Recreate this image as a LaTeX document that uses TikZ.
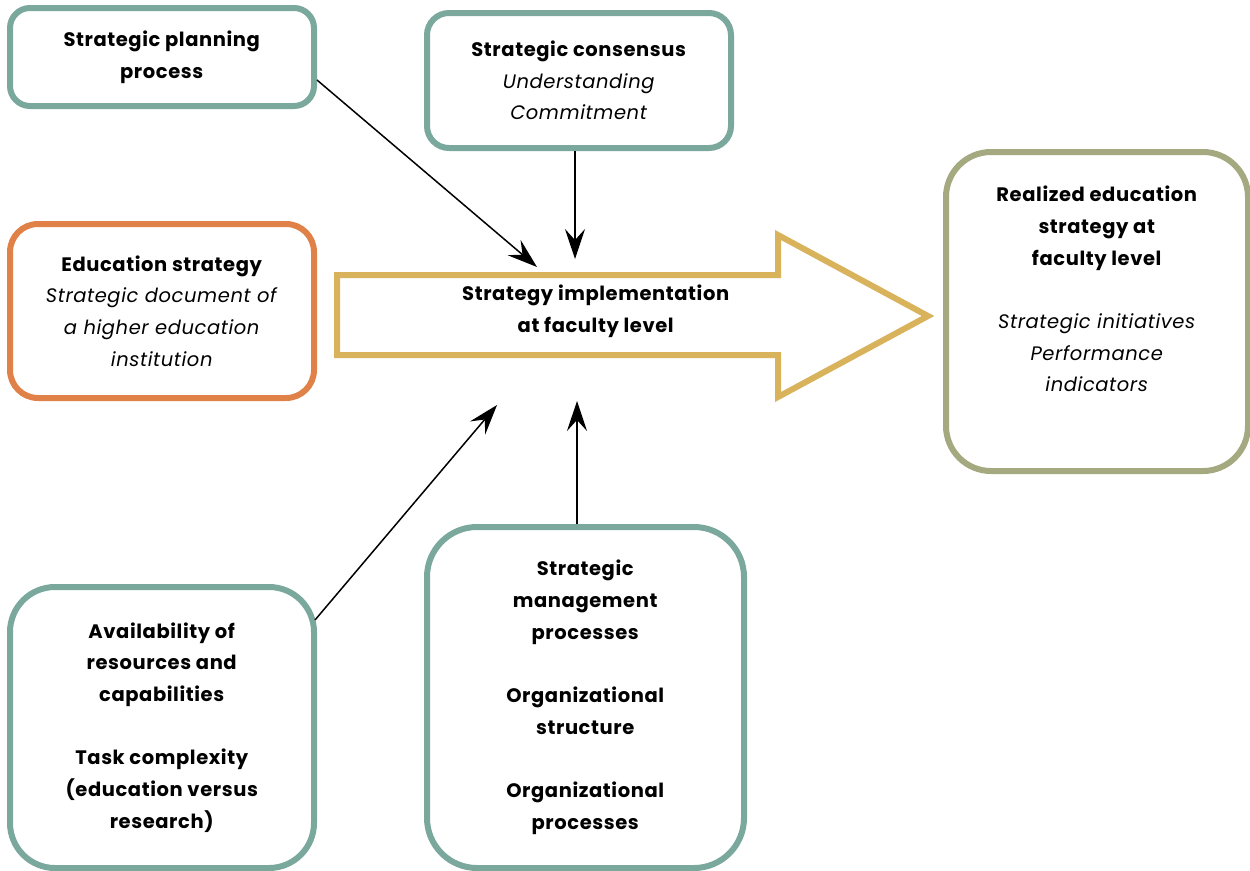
\documentclass[tikz,border=0pt]{standalone}
\usepackage{fontspec}
\setmainfont{Poppins}[LetterSpace=3]
\usetikzlibrary{arrows.meta}
\definecolor{tealc}{HTML}{7BA89C}
\definecolor{orangec}{HTML}{E08248}
\definecolor{goldc}{HTML}{D9B35C}
\definecolor{olivec}{HTML}{A4A97F}
\begin{document}
\begin{tikzpicture}[x=1pt,y=-1pt,
  box/.style={draw=tealc, line width=6pt, rounded corners=#1, fill=white,
              align=center, inner sep=0pt, font=\fontsize{19.5}{31.7}\selectfont},
  box/.default=20pt,
  lbl/.style={align=center, inner sep=0pt, font=\fontsize{19.5}{31.7}\selectfont},
  link/.style={line width=1.5pt, -{Stealth[length=30pt,width=20pt,inset=11pt]}}]
\useasboundingbox (0,0) rectangle (1250,870);

% input boxes
\node[box=20pt, minimum width=304pt, minimum height=98pt] (plan) at (162,57)
  {\textbf{Strategic planning}\\\textbf{process}};
\node[box=22pt, minimum width=304pt, minimum height=135pt] (cons) at (579,80.5)
  {\textbf{Strategic consensus}\\\textit{Understanding}\\\textit{Commitment}};
\node[box=28pt, draw=orangec, minimum width=304pt, minimum height=174pt] (edu) at (162,311)
  {\textbf{Education strategy}\\\textit{Strategic document of}\\\textit{a higher education}\\\textit{institution}};
\node[box=45pt, minimum width=304pt, minimum height=281pt] (res) at (162,727.5)
  {\textbf{Availability of}\\\textbf{resources and}\\\textbf{capabilities}\\[31.7pt]\textbf{Task complexity}\\\textbf{(education versus}\\\textbf{research)}};
\node[box=50pt, minimum width=317pt, minimum height=341pt] (mgmt) at (585.5,697.5)
  {\textbf{Strategic}\\\textbf{management}\\\textbf{processes}\\[31.7pt]\textbf{Organizational}\\\textbf{structure}\\[31.7pt]\textbf{Organizational}\\\textbf{processes}};

% outcome box
\node[box=45pt, draw=olivec, minimum width=302pt, minimum height=319pt] (real) at (1097,311.5) {};
\node[lbl] (realtxt) at (1097,289)
  {\textbf{Realized education}\\\textbf{strategy at}\\\textbf{faculty level}\\[31.7pt]\textit{Strategic initiatives}\\\textit{Performance}\\\textit{indicators}};

% central block arrow
\draw[draw=goldc, line width=6pt, miter limit=10, fill=white]
  (337,275) -- (778,275) -- (778,235) -- (928,316) -- (778,397) -- (778,355) -- (337,355) -- cycle;
\node[lbl] (impl) at (596,311.5)
  {\textbf{Strategy implementation}\\\textbf{at faculty level}};

% connector end points at the block arrow
\coordinate (inPlan) at (537,267);
\coordinate (inCons) at (575,259);
\coordinate (inRes)  at (497,405);
\coordinate (inMgmt) at (577,401);

\draw[link] (317,80) -- (inPlan);
\draw[link] (cons.south -| inCons) -- (inCons);
\draw[link] (315,620) -- (inRes);
\draw[link] (mgmt.north -| inMgmt) -- (inMgmt);
\end{tikzpicture}
\end{document}
